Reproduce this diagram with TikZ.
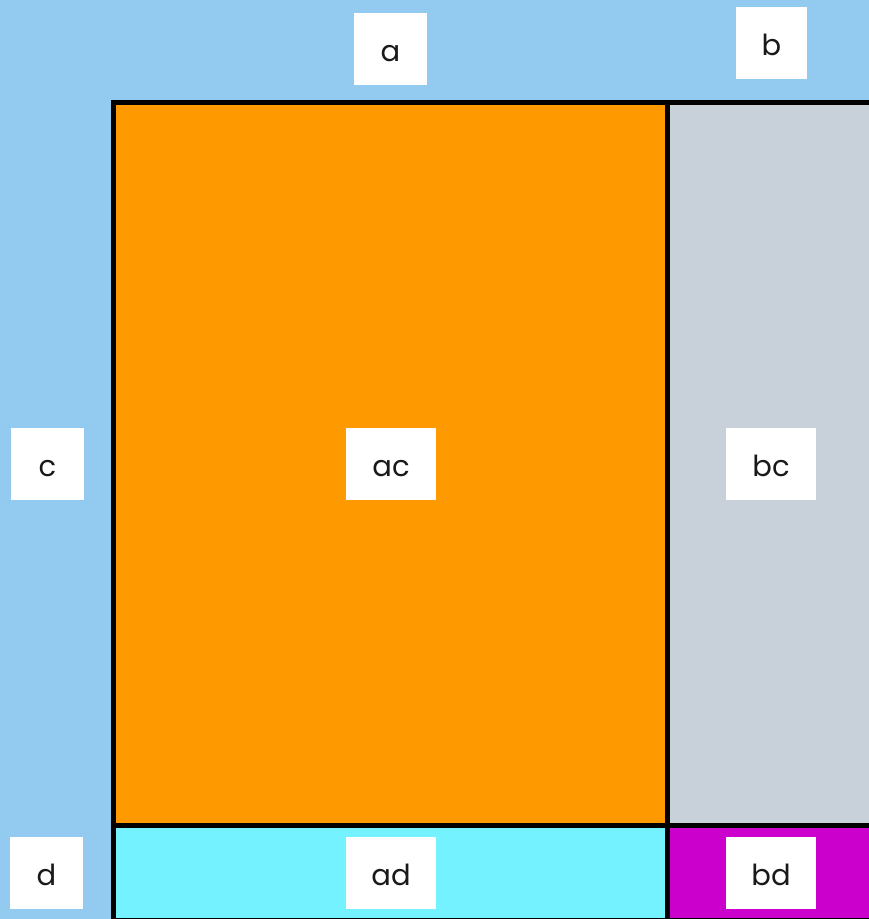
\documentclass[tikz,border=0pt]{standalone}
\usepackage{fontspec}
\setmainfont{Poppins}
\definecolor{bgblue}{HTML}{93CAEF}
\definecolor{acorange}{HTML}{FF9900}
\definecolor{bcgray}{HTML}{C8D0D9}
\definecolor{adcyan}{HTML}{74F2FF}
\definecolor{bdmag}{HTML}{CC00CC}
\begin{document}
\begin{tikzpicture}[x=1pt,y=-1pt,
  lbl/.style={fill=white, inner sep=0pt, minimum height=72pt, text height=24pt, text depth=0pt, font=\fontsize{29}{30}\selectfont, text=black!90},
  narrow/.style={lbl, minimum width=73pt},
  wide/.style={lbl, minimum width=90pt},
  edge/.style={line width=5pt, black}]
\fill[bgblue] (0,0) rectangle (869,919);
\useasboundingbox (0,0) rectangle (869,919);
\fill[acorange] (113,102) rectangle (667,825);
\fill[bcgray] (667,102) rectangle (880,825);
\fill[adcyan] (113,825) rectangle (667,930);
\fill[bdmag] (667,825) rectangle (880,930);
\draw[edge] (113,930) -- (113,102) -- (880,102);
\draw[edge] (667,102) -- (667,930);
\draw[edge] (113,825) -- (880,825);
\draw[edge] (113,920) -- (880,920);
\node[narrow] (a) at (390.5,49) {a};
\node[narrow, minimum width=71pt] (b) at (771.5,43) {b};
\node[narrow] (c) at (47.5,464) {c};
\node[wide] (ac) at (391,464) {ac};
\node[wide] (bc) at (771,464) {bc};
\node[narrow] (d) at (46.5,873) {d};
\node[wide] (ad) at (391,873) {ad};
\node[wide] (bd) at (771,873) {bd};
\end{tikzpicture}
\end{document}
